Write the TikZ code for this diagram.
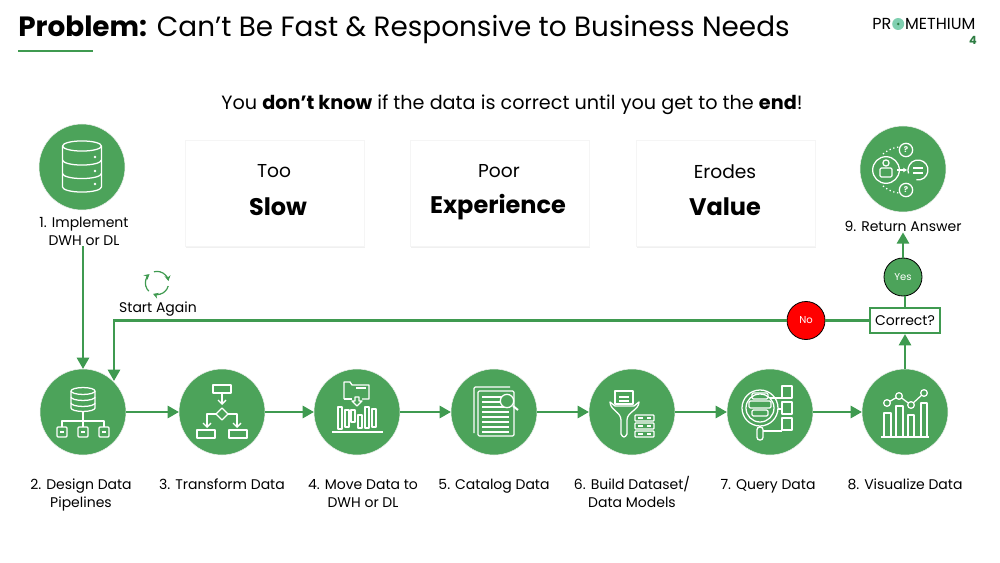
\documentclass[tikz,border=0pt]{standalone}
\usepackage{fontspec}
\setmainfont{Poppins}
\usetikzlibrary{arrows.meta,positioning,shadows}
\definecolor{promgreen}{HTML}{4CA35A}
\definecolor{promline}{HTML}{3F9A50}
\definecolor{promdark}{HTML}{2E7D43}
\definecolor{promteal}{HTML}{7FCFB0}
\newcommand{\fsz}[1]{\fontsize{#1}{#1}\selectfont}
\tikzset{StepStyle/.style  = {shape        = circle,
                              fill         = promgreen,
                              draw         = black!6,
                              inner sep    = 0pt,
                              outer sep    = 0pt,
                              minimum size = 64.5pt},
         CardStyle/.style  = {fill         = white,
                              draw         = black!4,
                              line width   = .5pt,
                              inner sep    = 0pt,
                              minimum width  = 134pt,
                              minimum height = 80pt,
                              drop shadow  = {shadow xshift=.8pt, shadow yshift=-.8pt, opacity=.12}},
         DecideStyle/.style = {shape       = circle,
                              draw         = black,
                              line width   = .6pt,
                              text         = white,
                              inner sep    = 0pt,
                              minimum size = 28.5pt,
                              font         = \fsz{7.5}},
         steplabel/.style  = {font=\fontsize{10.5}{13.5}\selectfont, align=center, inner sep=0pt},
         cardtop/.style    = {font=\fsz{14}, inner sep=0pt},
         cardbig/.style    = {font=\fsz{18}\bfseries, inner sep=0pt},
         flow/.style       = {draw=promline, line width=2.1pt, -{Triangle[length=8.5pt,width=9pt]}},
         plainflow/.style  = {draw=promline, line width=2.1pt},
         icon/.style       = {draw=white, line width=.95pt, line join=round}}
\begin{document}
\begin{tikzpicture}[x=.75pt, y=-.75pt]
  \useasboundingbox (0,0) rectangle (1000,563);
  %%% HEADER %%%
  \node[anchor=west, inner sep=0pt, font=\fsz{20.9}] (title) at (18,30) {\textbf{Problem:} Can’t Be Fast \& Responsive to Business Needs};
  \draw[promline, line width=1.6pt] (18,51) -- (93,51);
  \node[anchor=west, inner sep=0pt, font=\fsz{12}] (logoa) at (872,24) {PR};
  \node[circle, fill=promteal, inner sep=0pt, minimum size=9pt, right=.3pt of logoa] (logoo) {};
  \node[circle, fill=promdark, inner sep=0pt, minimum size=2pt] (logoc) at (logoo) {};
  \node[inner sep=0pt, font=\fsz{12}, right=.3pt of logoo] (logob) {METHIUM};
  \node[inner sep=0pt, font=\fsz{8.5}\bfseries, text=promdark] (pagenum) at (973,40) {4};
  \node[inner sep=0pt, font=\fsz{14.4}] (headline) at (512,104.5) {You \textbf{don’t know} if the data is correct until you get to the \textbf{end}!};
  %%% CARDS %%%
  \node[CardStyle] (slow) at (274.5,193.5) {};
  \node[CardStyle] (experience) at (499.5,193.5) {};
  \node[CardStyle] (value) at (725.5,193.5) {};
  \node[cardtop] at (274,171) {Too};
  \node[cardbig] at (278,207) {Slow};
  \node[cardtop] at (499,171) {Poor};
  \node[cardbig] at (498,207) {Experience};
  \node[cardtop] at (725,172) {Erodes};
  \node[cardbig] at (725,207) {Value};
  %%% STEPS %%%
  \node[StepStyle] (implement) at (82,167) {};
  \node[StepStyle] (design) at (83,412) {};
  \node[StepStyle, right=39.75pt of design] (transform) {};
  \node[StepStyle, right=36.75pt of transform] (move) {};
  \node[StepStyle, right=38.25pt of move] (catalog) {};
  \node[StepStyle, right=39pt of catalog] (build) {};
  \node[StepStyle, right=39pt of build] (query) {};
  \node[StepStyle, right=36.75pt of query] (visualize) {};
  \node[StepStyle] (answer) at (903,169) {};
  %%% LABELS %%%
  \node[steplabel, below=5.5pt of implement, xshift=1.5pt] (implementtxt) {1. Implement\\DWH or DL};
  \node[steplabel, below=18pt of design, xshift=-1.5pt] (designtxt) {2. Design Data\\Pipelines};
  \node[steplabel, below=18pt of transform] (transformtxt) {3. Transform Data};
  \node[steplabel, below=18pt of move, xshift=4.5pt] (movetxt) {4. Move Data to\\DWH or DL};
  \node[steplabel, below=18pt of catalog] (catalogtxt) {5. Catalog Data};
  \node[steplabel, below=15.8pt of build] (buildtxt) {6. Build Dataset/\\Data Models};
  \node[steplabel, below=18pt of query, xshift=-1.5pt] (querytxt) {7. Query Data};
  \node[steplabel, below=18pt of visualize] (visualizetxt) {8. Visualize Data};
  \node[steplabel, below=7pt of answer] (answertxt) {9. Return Answer};
  \node[steplabel] (again) at (158,309.5) {Start Again};
  %%% DECISION %%%
  \node[draw=promline, line width=1.3pt, fill=white, inner sep=0pt, minimum width=53pt, minimum height=19pt, font=\fsz{10.5}] (correct) at (905,320.5) {Correct?};
  \node[DecideStyle, fill=promgreen] (yes) at (903,277) {Yes};
  \node[DecideStyle, fill=red] (no) at (806,320.5) {No};
  \coordinate (backend) at (114,381);
  %%% CONNECTORS %%%
  \draw[flow] (implementtxt.south -| design) -- (design);
  \draw[flow] (design) -- (transform);
  \draw[flow] (transform) -- (move);
  \draw[flow] (move) -- (catalog);
  \draw[flow] (catalog) -- (build);
  \draw[flow] (build) -- (query);
  \draw[flow] (query) -- (visualize);
  \draw[flow] (visualize) -- (visualize |- correct.south);
  \draw[plainflow] (correct) -- (correct |- yes.south);
  \draw[flow] (yes) -- (yes |- answertxt.south);
  \draw[plainflow] (correct) -- (no);
  \draw[flow] (no) -- (no -| backend) -- (backend);
  %%% START AGAIN ICON %%%
  \begin{scope}[shift={(157,283)}, draw=promline, line width=.9pt, -{Stealth[length=4pt,width=4.5pt]}]
    \draw (0,0) ++(105:8.7pt) arc[start angle=105, end angle=10, radius=8.7pt];
    \draw (0,0) ++(-15:8.7pt) arc[start angle=-15, end angle=-110, radius=8.7pt];
    \draw (0,0) ++(225:8.7pt) arc[start angle=225, end angle=130, radius=8.7pt];
  \end{scope}
  %%% ICONS %%%
  \begin{scope}[icon]
    % database
    \begin{scope}[shift={(implement)}]
      \draw (-19.5,-21) -- (-19.5,20) arc[start angle=180, end angle=360, x radius=14.6pt, y radius=3.8pt] -- (19.5,-21);
      \draw (0,-21) ellipse[x radius=14.6pt, y radius=3.8pt];
      \foreach \y in {-7,6.5} {\draw (-19.5,\y) arc[start angle=180, end angle=360, x radius=14.6pt, y radius=3.8pt];}
      \foreach \y in {-10,4,17} {\fill[white] (13,\y) circle[radius=1.1pt];}
    \end{scope}
    % pipelines
    \begin{scope}[shift={(design)}]
      \draw (-12,-21) -- (-12,-4) arc[start angle=180, end angle=360, x radius=9pt, y radius=2.6pt] -- (12,-21);
      \draw (0,-21) ellipse[x radius=9pt, y radius=2.6pt];
      \foreach \y in {-15,-9} {\draw (-12,\y) arc[start angle=180, end angle=360, x radius=9pt, y radius=2.6pt];}
      \draw (0,0) -- (0,15) (-21,15) -- (-21,9) -- (21,9) -- (21,15);
      \foreach \x in {-21,0,21} {
        \draw[rounded corners=.8pt] (\x-5,15) rectangle (\x+5,25);
        \draw (\x-2,20) -- (\x+2,20);
      }
    \end{scope}
    % flow chart
    \begin{scope}[shift={(transform)}, arrows={-{Straight Barb[length=3pt,width=6pt]}}]
      \draw[-] (-9,-27) rectangle (9,-19);
      \draw (0,-19) -- (0,-7);
      \draw[-] (0,-4) -- (6,2) -- (0,8) -- (-6,2) -- cycle;
      \draw (-6,2) -- (-15,2) -- (-15,16);
      \draw (6,2) -- (15,2) -- (15,16);
      \draw[-] (-25,18) rectangle (-7,26);
      \draw[-] (7,18) rectangle (25,26);
    \end{scope}
    % folder and bars
    \begin{scope}[shift={(move)}]
      \draw (-13,-13) -- (-13,-30) -- (-7,-30) -- (-5,-27) -- (12,-27) -- (12,-13) -- (5,-13);
      \draw (-13,-13) -- (-5,-13);
      \draw (-1,-24) -- (9,-24);
      \draw (-2,-15) -- (2,-15) -- (2,-11) -- (5,-11) -- (0,-6) -- (-5,-11) -- (-2,-11) -- cycle;
      \draw (-25,20) -- (26,20);
      \foreach \x/\t/\b in {-17/-5/17, -10/-2/15, -4/-2/10, 3/3/16, 10/-5/16, 17/-3/15} {
        \draw (\x-2,\t) rectangle (\x+2,\b);
      }
    \end{scope}
    % catalog
    \begin{scope}[shift={(catalog)}]
      \draw[rounded corners=1pt] (-20,21) -- (-20,-25) -- (16,-25);
      \draw[rounded corners=1pt] (-16,-21) rectangle (20,24);
      \foreach \y in {-15,-10,...,20} {\draw (-12,\y) -- (15,\y);}
      \draw[fill=promgreen] (13,-11) circle[radius=5pt];
      \draw[line width=1.5pt] (19,-6) -- (24,-2);
    \end{scope}
    % funnel
    \begin{scope}[shift={(build)}]
      \draw[fill=promgreen] (-17,-21) -- (-17,-8) -- (1,-8) -- (1,-21) -- cycle;
      \draw (-13,-15) -- (-3,-15) (-13,-11) -- (-3,-11);
      \draw (-22,-10) .. controls (-22,-2) and (-11,0) .. (-11,8) -- (-11,22) .. controls (-9,26) and (-7,26) .. (-5,22) -- (-5,8) .. controls (-5,0) and (7,-2) .. (7,-10) -- (2,-6) -- (-17,-6) -- cycle;
      \foreach \y in {3,11,19} {
        \draw[rounded corners=.5pt] (3,\y) rectangle (22,\y+6);
        \draw (6,\y+3) -- (11,\y+3) (15,\y+3) -- (19,\y+3);
      }
    \end{scope}
    % query
    \begin{scope}[shift={(query)}]
      \draw (-10,-4) circle[radius=13.5pt];
      \draw (-10,-4) circle[radius=10.5pt];
      \draw[rounded corners=1pt] (-18,-19) rectangle (-2,-13);
      \draw[rounded corners=1pt] (-21,-11) rectangle (1,-4);
      \draw[rounded corners=1pt] (-18,-2) rectangle (-2,4);
      \draw[rounded corners=2pt] (-13,15) rectangle (-7,28);
      \draw (-10,14) -- (-10,15);
      \foreach \y in {-20,-4,12} {\draw (12,\y-6) rectangle (22,\y+6);}
      \draw (0,-14) -- (12,-14) (8,-3) -- (12,-3) (-7,19) -- (4,19) -- (12,19);
    \end{scope}
    % chart
    \begin{scope}[shift={(visualize)}]
      \draw (-24,25) -- (24,25);
      \foreach \x/\t/\w in {-21/1/7, -9/-6/7, 3/3/6, 16/-9/6} {
        \draw (\x,25) -- (\x,\t) -- (\x+\w,\t) -- (\x+\w,25);
      }
      \draw (-18,-9) -- (-6,-16) -- (6,-7) -- (19,-19);
      \foreach \x/\y in {-18/-9, -6/-16, 6/-7, 19/-19} {\draw[fill=promgreen] (\x,\y) circle[radius=2.5pt];}
    \end{scope}
    % answer
    \begin{scope}[shift={(answer)}]
      \draw (-17,1) circle[radius=10pt];
      \draw (-17,-6) circle[radius=2.3pt];
      \draw[rounded corners=1pt] (-23,8) -- (-23,-1) -- (-11,-1) -- (-11,8) -- cycle;
      \draw (15,1) ++(-100:7.5pt) arc[start angle=-100, end angle=200, radius=7.5pt];
      \draw (10,-1) -- (20,-1) (10,4) -- (20,4);
      \draw (3,-19) circle[radius=5pt] (3,21) circle[radius=5pt];
      \draw[-{Stealth[length=3pt,width=3.5pt]}] (-6,1) -- (4,1);
      \draw[dotted] (-20,-15) .. controls (-15,-19) and (-9,-22) .. (-4,-22);
      \draw[dotted] (-20,17) .. controls (-15,21) and (-9,24) .. (-4,24);
      \node[text=white, inner sep=0pt, font=\fsz{6}\bfseries] (qtop) at (3,-19) {?};
      \node[text=white, inner sep=0pt, font=\fsz{6}\bfseries] (qbot) at (3,21) {?};
    \end{scope}
  \end{scope}
\end{tikzpicture}
\end{document}
